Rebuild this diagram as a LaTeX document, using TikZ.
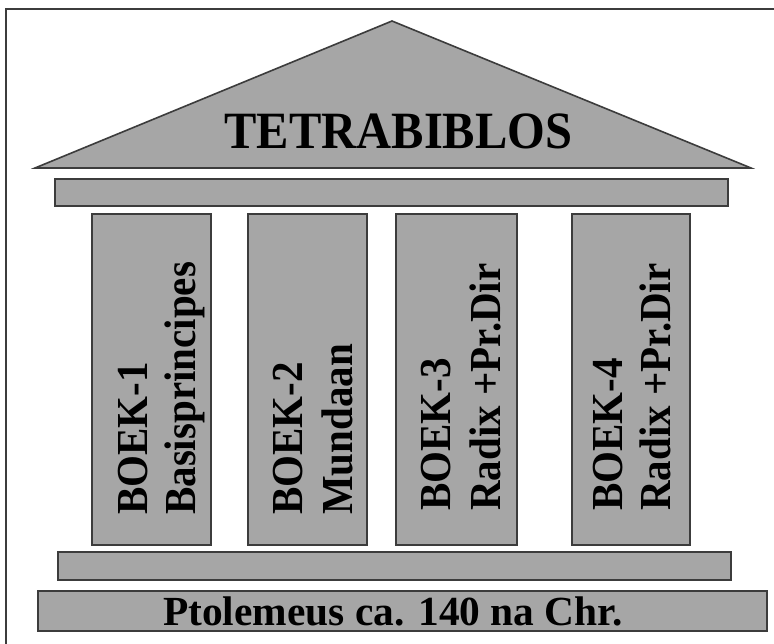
\documentclass[tikz,border=0pt]{standalone}
\usepackage{fontspec}
\setmainfont{Liberation Serif}
\definecolor{stonegray}{HTML}{A6A6A6}
\definecolor{edgegray}{HTML}{3C3C3C}
\tikzset{
  stone/.style={fill=stonegray, draw=edgegray, line width=1.6pt, line join=miter},
  frameline/.style={draw=edgegray, line width=2pt},
  coltext/.style={rotate=90, anchor=base west, inner sep=0pt,
    font=\fontsize{41}{49}\selectfont\bfseries},
  titletext/.style={anchor=base, inner sep=0pt,
    font=\fontsize{48.5}{56}\selectfont\bfseries},
  basetext/.style={anchor=base, inner sep=0pt,
    font=\fontsize{41.4}{48}\selectfont\bfseries}
}
\begin{document}
\begin{tikzpicture}[x=1pt, y=-1pt]
  \useasboundingbox (0,0) rectangle (774,643);
  \fill[white] (0,0) rectangle (774,643);
  % outer frame (top and left visible)
  \draw[frameline] (6,780) -- (6,9) -- (800,9);
  % roof
  \draw[stone] (35,168) -- (392,21) -- (751,168) -- cycle;
  \node[titletext] (title) at (398.5,148) {\scalebox{1}[1.08]{TETRABIBLOS}};
  % entablature
  \draw[stone] (55,179) rectangle (728,206);
  % columns
  \draw[stone] (92,214) rectangle (211,545);
  \draw[stone] (248,214) rectangle (367,545);
  \draw[stone] (396,214) rectangle (517,545);
  \draw[stone] (572,214) rectangle (690,545);
  \node[coltext] (b1a) at (147,515) {\scalebox{1}[1.08]{BOEK-1}};
  \node[coltext] (b1b) at (195,515) {\scalebox{1}[1.08]{Basisprincipes}};
  \node[coltext] (b2a) at (302,515) {\scalebox{1}[1.08]{BOEK-2}};
  \node[coltext] (b2b) at (352,515) {\scalebox{1}[1.08]{Mundaan}};
  \node[coltext] (b3a) at (450,511) {\scalebox{1}[1.08]{BOEK-3}};
  \node[coltext] (b3b) at (500,511) {\scalebox{1}[1.08]{Radix +Pr.Dir}};
  \node[coltext] (b4a) at (622,511) {\scalebox{1}[1.08]{BOEK-4}};
  \node[coltext] (b4b) at (670,511) {\scalebox{1}[1.08]{Radix +Pr.Dir}};
  % base
  \draw[stone] (58,552) rectangle (731,580);
  \draw[stone] (38,591) rectangle (767,631);
  \node[basetext] (ptol) at (393,625) {Ptolemeus ca. 140 na Chr.};
\end{tikzpicture}
\end{document}
